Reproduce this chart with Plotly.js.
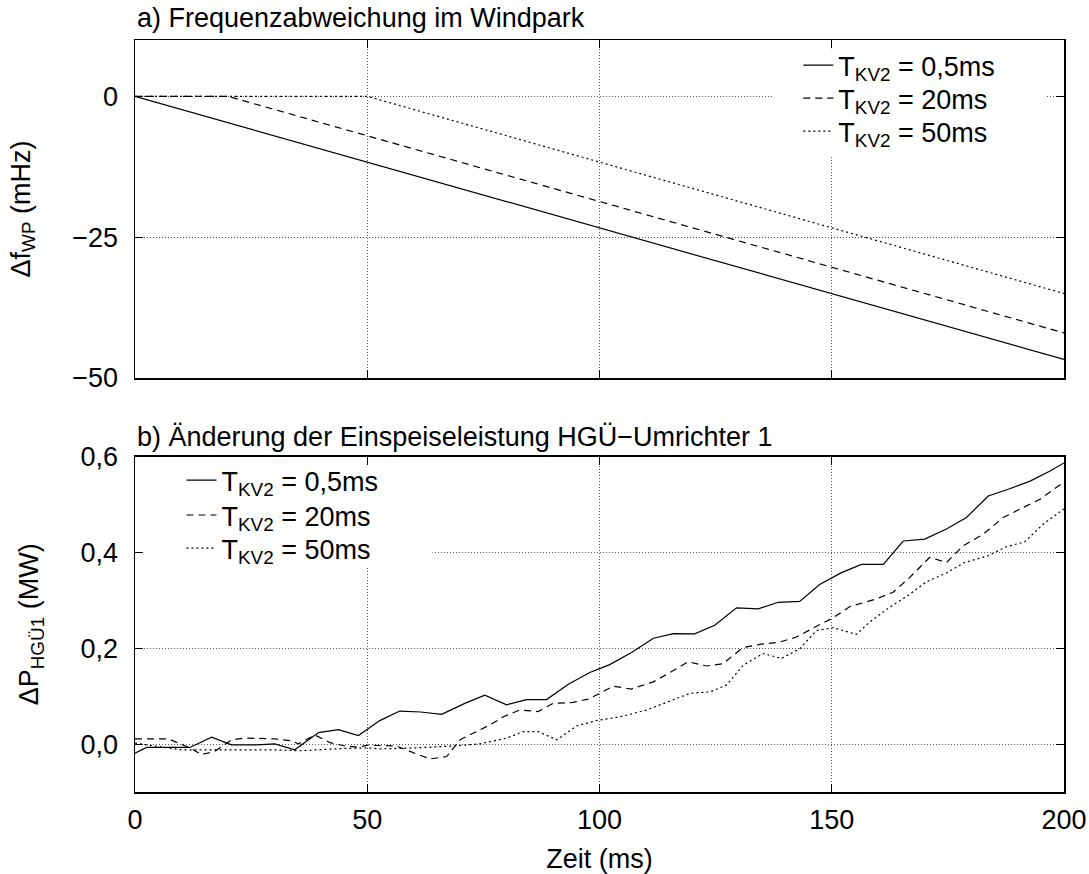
<!DOCTYPE html>
<html>
<head>
<meta charset="utf-8">
<script src="https://cdn.plot.ly/plotly-3.0.1.min.js"></script>
<style>html,body{margin:0;padding:0;background:#fff;}#chart{width:1089px;height:874px;}</style>
</head>
<body>
<div id="chart"></div>
<script>
// ---- a) Frequenzabweichung im Windpark (mHz) ----
const seriesNames = ["T<sub>KV2</sub> = 0,5ms", "T<sub>KV2</sub> = 20ms", "T<sub>KV2</sub> = 50ms"];

const fT_05 = [0, 200];
const fV_05 = [0, -46.7];
const fT_20 = [0, 20, 200];
const fV_20 = [0, 0, -42.0];
const fT_50 = [0, 50, 200];
const fV_50 = [0, 0, -35.0];

// ---- b) Änderung der Einspeiseleistung HGÜ-Umrichter 1 (MW) ----
const pT_05 = [0, 2.5, 11.8, 16.5, 20.8, 26.2, 30.1, 34.4, 39.5, 43.8, 48.1, 52.7, 57, 61.5, 66, 71, 75.3, 80, 84.3, 88.6, 93.3, 97.9, 102.2, 106.9, 111.6, 115.9, 120.5, 124.8, 129.5, 134.2, 138.5, 143.1, 147.4, 152.1, 156.4, 161.1, 165.4, 170, 174.7, 179, 183.7, 188, 192.7, 197, 200];
const pV_05 = [-0.019, -0.007, -0.007, 0.0145, -0.0015, -0.0015, 0.0005, -0.012, 0.024, 0.030, 0.018, 0.049, 0.069, 0.067, 0.062, 0.085, 0.102, 0.082, 0.093, 0.093, 0.125, 0.1495, 0.166, 0.191, 0.221, 0.2305, 0.23, 0.248, 0.2845, 0.2825, 0.296, 0.298, 0.333, 0.358, 0.375, 0.375, 0.424, 0.428, 0.449, 0.473, 0.518, 0.532, 0.549, 0.570, 0.587];

const pT_20 = [0, 7.2, 11.8, 14.3, 17.2, 20.8, 23.7, 30.1, 33.7, 35.2, 38.7, 42, 45.2, 48.1, 50.2, 52.7, 56.3, 61, 63.5, 67.1, 70, 72.8, 76.4, 79.3, 82.8, 86.8, 90, 94.3, 97.6, 100.1, 102.9, 106.8, 111.6, 116, 119.1, 123, 126.6, 130.9, 134.5, 138.8, 142.4, 146.7, 150, 153.9, 157.5, 159.6, 163.2, 166.8, 171.1, 174.7, 178.3, 182.6, 186.9, 191.2, 194.8, 200];
const pV_20 = [0.011, 0.011, -0.008, -0.022, -0.015, 0.009, 0.0125, 0.011, 0.007, 0.0005, 0.019, 0.003, -0.004, -0.0065, -0.002, -0.003, -0.004, -0.022, -0.031, -0.026, 0.009, 0.0228, 0.040, 0.057, 0.071, 0.068, 0.085, 0.087, 0.094, 0.106, 0.121, 0.115, 0.130, 0.154, 0.172, 0.163, 0.168, 0.2015, 0.208, 0.213, 0.2235, 0.246, 0.262, 0.287, 0.298, 0.303, 0.317, 0.348, 0.390, 0.379, 0.414, 0.438, 0.473, 0.4935, 0.511, 0.547];

const pT_50 = [0, 10, 20, 30, 35.2, 40, 45, 50.2, 52.7, 60, 68.5, 74.3, 80, 83.6, 86.8, 90.8, 95.1, 99.3, 104.4, 110.1, 115.9, 119.5, 123.8, 127.3, 131, 135.2, 139.2, 143.1, 146.7, 150.3, 155.3, 158.2, 162.5, 166.4, 170.4, 174.7, 178.6, 183.6, 187.6, 191.5, 195.5, 200];
const pV_50 = [0.002, -0.012, -0.012, -0.012, -0.014, -0.011, -0.009, -0.008, -0.010, -0.008, -0.004, 0.0006, 0.0125, 0.026, 0.026, 0.009, 0.038, 0.049, 0.057, 0.071, 0.092, 0.106, 0.109, 0.123, 0.165, 0.189, 0.179, 0.199, 0.237, 0.243, 0.229, 0.255, 0.286, 0.310, 0.339, 0.357, 0.379, 0.393, 0.412, 0.422, 0.459, 0.491];

const xTicks = [0, 50, 100, 150, 200];
const fTicks = [-50, -25, 0];
const pTicks = [0, 0.2, 0.4, 0.6];

const FONT = "Liberation Sans, Arial, sans-serif";
const FS = 27;
const dashStyles = ["solid", "7px,5px", "2px,3px"];
const LW = 1.2;

function tr(x, y, i, xa, ya, leg) {
  return {
    x: x, y: y, type: "scatter", mode: "lines",
    name: seriesNames[i], xaxis: xa, yaxis: ya, legend: leg,
    line: {color: "#000", width: LW, dash: dashStyles[i]},
    hoverinfo: "skip"
  };
}

const data = [
  tr(fT_05, fV_05, 0, "x", "y", "legend"),
  tr(fT_20, fV_20, 1, "x", "y", "legend2"),
  tr(fT_50, fV_50, 2, "x", "y", "legend3"),
  tr(pT_05, pV_05, 0, "x2", "y2", "legend4"),
  tr(pT_20, pV_20, 1, "x2", "y2", "legend5"),
  tr(pT_50, pV_50, 2, "x2", "y2", "legend6")
];

const axBase = {
  showline: true, linecolor: "#000", linewidth: 1.5, mirror: "ticks",
  ticks: "inside", ticklen: 8, tickwidth: 1, tickcolor: "#000",
  showgrid: true, gridcolor: "#555", gridwidth: 1, griddash: "1px,2px",
  zeroline: false,
  tickfont: {family: FONT, size: FS, color: "#000"}
};

function leg(x, y) {
  return {
    x: x, y: y, xanchor: "left", yanchor: "top",
    bgcolor: "rgba(0,0,0,0)", borderwidth: 0, tracegroupgap: 0,
    font: {family: FONT, size: FS, color: "#000"}
  };
}

const layout = {
  width: 1089, height: 874,
  margin: {l: 135, r: 25, t: 40, b: 82},
  paper_bgcolor: "#fff", plot_bgcolor: "#fff",
  separators: ",.",
  font: {family: FONT, size: FS, color: "#000"},
  showlegend: true,
  xaxis: Object.assign({}, axBase, {
    domain: [0, 1], range: [0, 200], tickvals: xTicks, showticklabels: false, anchor: "y"
  }),
  yaxis: Object.assign({}, axBase, {
    domain: [0.5505, 1], range: [-50, 10], tickvals: fTicks, anchor: "x",
    ticklabelstandoff: 10,
    title: {text: "Δf<sub>WP</sub> (mHz)", font: {family: FONT, size: FS}, standoff: 34}
  }),
  xaxis2: Object.assign({}, axBase, {
    domain: [0, 1], range: [0, 200], tickvals: xTicks, anchor: "y2",
    ticklabelstandoff: 3,
    title: {text: "Zeit (ms)", font: {family: FONT, size: FS}, standoff: 20}
  }),
  yaxis2: Object.assign({}, axBase, {
    domain: [0, 0.4459], range: [-0.1, 0.6], tickvals: pTicks, tickformat: ".1f", anchor: "x2",
    ticklabelstandoff: 10,
    title: {text: "ΔP<sub>HGÜ1</sub> (MW)", font: {family: FONT, size: FS}, standoff: 34}
  }),
  legend: leg(0.714, 0.9987),
  legend2: leg(0.714, 0.9548),
  legend3: leg(0.714, 0.9109),
  legend4: leg(0.05, 0.4468),
  legend5: leg(0.05, 0.4003),
  legend6: leg(0.05, 0.3564),
  // white key boxes that hide the grid behind the legends (no curve passes through these areas)
  shapes: [
    {type: "rect", xref: "x domain", yref: "y domain", x0: 0.686, x1: 0.981, y0: 0.66, y1: 0.973,
     fillcolor: "#fff", line: {width: 0}, layer: "above"},
    {type: "rect", xref: "x2 domain", yref: "y2 domain", x0: 0.0097, x1: 0.32, y0: 0.668, y1: 0.975,
     fillcolor: "#fff", line: {width: 0}, layer: "above"}
  ],
  annotations: [
    {text: "a) Frequenzabweichung im Windpark", xref: "paper", yref: "paper",
     x: 0, y: 1.029, xanchor: "left", yanchor: "middle", showarrow: false,
     font: {family: FONT, size: FS, color: "#000"}},
    {text: "b) Änderung der Einspeiseleistung HGÜ−Umrichter 1", xref: "paper", yref: "paper",
     x: 0, y: 0.472, xanchor: "left", yanchor: "middle", showarrow: false,
     font: {family: FONT, size: FS, color: "#000"}}
  ]
};

Plotly.newPlot("chart", data, layout, {staticPlot: true, displayModeBar: false});
</script>
</body>
</html>
